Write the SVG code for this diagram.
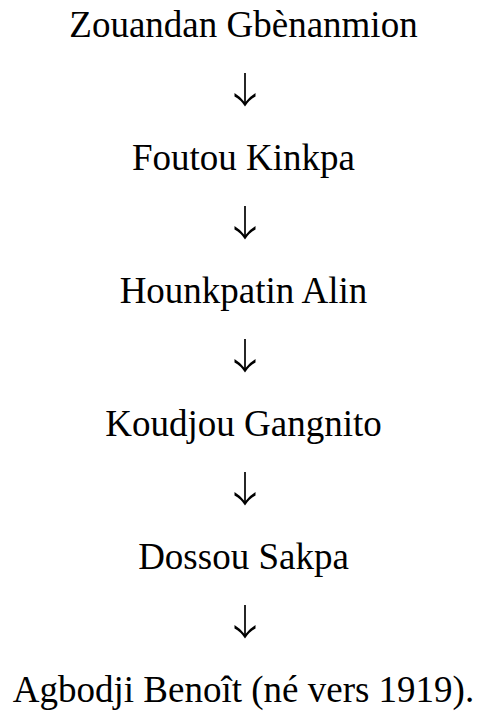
<svg xmlns="http://www.w3.org/2000/svg" width="478" height="713" viewBox="0 0 478 713">
<style>
.t { font-family: 'Liberation Serif', 'Times New Roman', Times, serif; font-size: 37px; fill: #000; text-anchor: middle; }
.arrow-stem { stroke: #000; stroke-width: 1.7; fill: none; }
.arrow-head { fill: #000; stroke: none; }
</style>
<defs>
<g id="arr">
<line class="arrow-stem" x1="0" y1="0" x2="0" y2="31"/>
<path class="arrow-head" d="M-10.5,20 Q-4.5,23.5 0,29.5 Q4.5,23.5 10.5,20 L10.5,23.5 Q4.5,26.5 0,33.5 Q-4.5,26.5 -10.5,23.5 Z"/>
</g>
</defs>
<rect width="478" height="713" fill="#fff"/>
<g id="n1"><text class="t" x="243.5" y="37">Zouandan Gbènanmion</text></g>
<g id="n2"><text class="t" x="243.5" y="170">Foutou Kinkpa</text></g>
<g id="n3"><text class="t" x="243.5" y="303">Hounkpatin Alin</text></g>
<g id="n4"><text class="t" x="243.5" y="436">Koudjou Gangnito</text></g>
<g id="n5"><text class="t" x="243.5" y="569">Dossou Sakpa</text></g>
<g id="n6"><text class="t" x="243.5" y="702">Agbodji Benoît (né vers 1919).</text></g>
<g id="connectors">
<use href="#arr" x="245" y="73"/>
<use href="#arr" x="245" y="206"/>
<use href="#arr" x="245" y="339"/>
<use href="#arr" x="245" y="472"/>
<use href="#arr" x="245" y="605"/>
</g>
</svg>
